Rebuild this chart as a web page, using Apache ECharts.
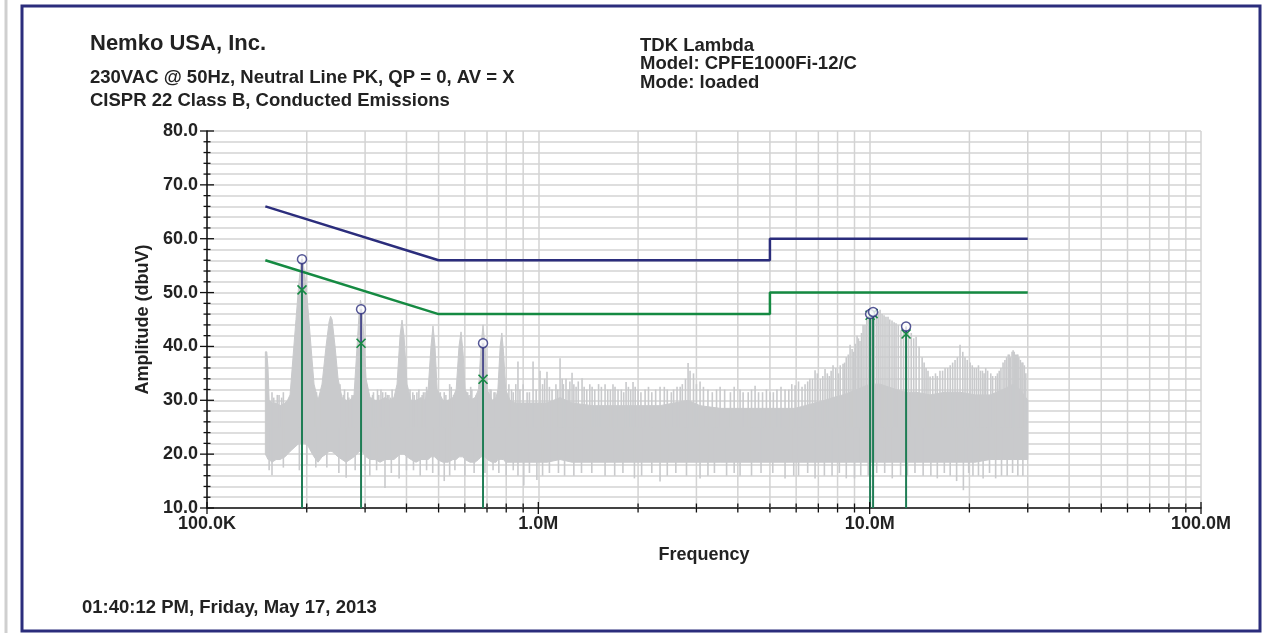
<!DOCTYPE html>
<html>
<head>
<meta charset="utf-8">
<title>Conducted Emissions - Neutral Line</title>
<script src="https://cdn.jsdelivr.net/npm/echarts@6/dist/echarts.min.js"></script>
<style>
  html, body { margin: 0; padding: 0; background: #ffffff; }
  #chart { width: 1262px; height: 633px; }
</style>
</head>
<body>
<div id="chart"></div>
<script>
// Frequencies are in kHz, amplitudes in dBuV.

// Axis ticks
const xTickValues = [100, 1000, 10000, 100000];
const xTickLabels = ['100.0K', '1.0M', '10.0M', '100.0M'];
const xMinorMultipliers = [2, 3, 4, 5, 6, 7, 8, 9];
const yMin = 10, yMax = 80, yMajorStep = 10, yMinorStep = 2;

// CISPR 22 Class B limits
const qpLimitFreq = [150, 500, 5000, 5000, 30000];
const qpLimitVal  = [66, 56, 56, 60, 60];
const avLimitFreq = [150, 500, 5000, 5000, 30000];
const avLimitVal  = [56, 46, 46, 50, 50];

// Peak scan envelope (upper / lower edge of the sweep trace)
const noiseFreq = [150, 151.5, 152.8, 154, 157.1, 161.6, 166.1, 172.0, 175, 178.1, 181.8, 185.6, 189.5, 193.5, 197.6, 201.8, 206.0, 210.4, 216.3,
  222.4, 228.7, 233.5, 236, 238.5, 243.5, 248.6, 255.6, 262.8, 270.2, 277.8, 283.7, 287.7, 290.5, 293.7, 297.8, 302.0, 310.5, 321.4, 332.8,
  344.5, 356.7, 366.7, 374.6, 382.5, 387.8, 393.2, 401.5, 412.8, 427.4, 442.5, 455, 465, 474.3, 480.9, 487.7, 495, 515.5, 533.8, 552.7,
  565, 576.2, 584.4, 592.5, 601, 622.1, 644.1, 660, 671.5, 680.9, 690.4, 701, 724.9, 745.3, 755, 767, 776, 785, 797, 821.4, 850.4,
  892.8, 963.9, 1062, 1163, 1264, 1453, 1704, 1931, 2330, 2831, 3077, 3537, 4063, 4510, 5005, 5554, 5955, 6383, 6842, 7334, 7752,
  8311, 8728, 9162, 9553, 10030, 10750, 11360, 12010, 12880, 13810, 15220, 16890, 18740, 20810, 23090, 25270, 27100, 28440, 30000];
const noiseHi = [39, 39, 36, 30, 29.5, 29.5, 29, 29.5, 30, 31, 38, 45, 52, 57, 53, 47, 40, 33, 30,
  33, 40, 44.5, 45.6, 45, 40, 34, 30.5, 30, 30, 31, 40, 46, 48.6, 47, 41, 34, 30.5, 30, 30,
  30.5, 30, 30.5, 33, 42, 44.9, 42, 33, 30, 30, 30.5, 30, 32, 40, 43.8, 40, 32, 30, 30, 30.5,
  32, 40, 42.7, 39, 32, 30, 30.5, 32, 40, 44, 40, 32, 30, 30.5, 32, 40, 42.5, 39, 32, 30, 29.5,
  29.5, 29.5, 29.5, 30.5, 29.5, 29, 29, 29, 29, 30, 29, 28.5, 28.5, 28.5, 28.5, 28.5, 28.5, 29, 29.5, 30, 30.5,
  31, 31.5, 32, 32.5, 33, 33, 32.5, 32, 31.5, 31.5, 31, 31.5, 31.5, 31, 31, 32, 33, 32, 30];
const noiseLo = [20, 19.5, 19, 19, 18.5, 19, 19, 19.5, 20, 20.5, 21, 21.5, 22, 22, 22, 21.5, 20.5, 19.5, 18.5,
  19.5, 20, 20.5, 20.5, 20.5, 20, 19.5, 19, 18.5, 19, 19.5, 20, 20.5, 20.5, 20.5, 20, 19.5, 19, 19, 18.5,
  19, 19, 19, 19.5, 20, 20, 20, 19.5, 19, 18.5, 19, 19, 19, 19.5, 19.5, 19.5, 19, 18.5, 18.5, 19,
  19, 19.5, 19.5, 19.5, 19, 18.5, 18.5, 19, 19.5, 19.5, 19.5, 19, 18.5, 18.5, 19, 19, 19, 19, 18.5, 18.5, 18.5,
  18.5, 18.5, 18.5, 19, 18.5, 18.5, 18.5, 18.5, 18.5, 18.5, 18.5, 18.5, 18.5, 18.5, 18.5, 18.5, 18.5, 18.5, 18.5, 18.5, 18.5,
  18.5, 18.5, 18.5, 18.5, 18.5, 18.5, 18.5, 18.5, 18.5, 18.5, 18.5, 18.5, 18.5, 18.5, 19, 19, 19, 19, 19];

// Narrow spikes above the trace envelope
const spikeFreq = [157.1, 159, 163, 165, 168, 170, 212, 214, 219, 252, 258, 260, 266, 268, 274, 305, 314, 316, 318, 327, 330, 335, 339,
  346, 350, 354, 358, 362, 405, 410, 418, 422, 430, 436, 446, 450, 455, 460, 500, 506, 520, 526, 540, 546, 555, 607, 612, 618,
  625, 630, 650, 700, 710, 715, 720, 735, 740, 805, 815, 830, 840, 855,
  868, 880, 900, 925, 940, 964, 985, 1012, 1030, 1045, 1062, 1080, 1100, 1130, 1145, 1163, 1180, 1190, 1212, 1230, 1245, 1264,
  1280, 1300, 1320, 1355, 1375, 1400, 1430, 1453, 1480, 1520, 1550, 1590, 1620, 1650, 1680, 1704, 1740, 1780, 1810, 1840, 1870,
  1900, 1931, 1960, 2000, 2040, 2100, 2150, 2200, 2260, 2330, 2400, 2450, 2520, 2560, 2622, 2680, 2720, 2780, 2831, 2870, 2940,
  3000, 3077, 3150, 3250, 3350, 3450, 3537, 3650, 3800, 3900, 4063, 4150, 4300, 4400, 4510, 4620, 4750, 4880, 5005, 5120, 5250,
  5400, 5554, 5700, 5820, 5955, 6100, 6250, 6383, 6500, 6600, 6720, 6842, 6950, 7100, 7220, 7334, 7450, 7552, 7650, 7752, 7900,
  8050, 8150, 8311, 8400, 8500, 8620, 8728, 8850, 8950, 9050, 9162, 9250, 9350, 9450, 9553, 9680, 9800, 9920, 10030, 10150,
  10350, 10500, 10620, 10750, 10900, 11050, 11200, 11360, 11500, 11680, 11850, 12010, 12200, 12430, 12650, 12880, 13100, 13350,
  13580, 13810, 14100, 14400, 14600, 14800, 15000, 15220, 15500, 15800, 16000, 16300, 16600, 16890, 17200, 17500, 17800, 18100,
  18400, 18740, 19100, 19400, 19700, 20100, 20400, 20700, 21000, 21300, 21600, 21900, 22150, 22400, 22700, 23200, 23500, 24000,
  24300, 24600, 24900, 25270, 25600, 25900, 26200, 26400, 26600, 26900, 27100, 27300, 27500, 27800, 28000, 28200, 28500, 28800,
  29000, 29300, 29600];
const spikeTop = [31.5, 30.5, 31, 31, 30.5, 31.5, 31, 31.5, 31, 33, 31, 32, 31.5, 30.5, 31, 31, 30.5, 31, 31.5, 32, 31, 32, 31.5,
  31.5, 31, 31, 30.5, 32, 31, 32, 31.5, 31, 31.5, 32, 31, 31.5, 31.5, 32.5, 31, 31.5, 31.5, 31, 33, 32.5, 31, 31.5, 31.5, 31,
  32.5, 32, 31, 31.5, 31, 32, 32, 31.5, 31.5, 31, 33, 32, 31.5, 33,
  37.2, 32, 33, 31.5, 31.5, 37.2, 32, 35.5, 33, 34, 35.3, 32.5, 32, 33, 32, 37.8, 34, 33, 34, 32, 33.5, 35.1,
  33, 32.5, 33.5, 34.1, 32.5, 32, 33, 32.5, 32, 33, 32.5, 33, 32, 32, 33, 32.5, 32, 32, 31.5, 33.4, 32.5,
  32, 33.4, 32.5, 32, 31.5, 32, 32.5, 31.5, 32, 32.5, 32.5, 32, 31.5, 32, 32.5, 32.5, 33, 34, 36.9, 35.5, 35,
  33, 33.5, 32.5, 32, 31.5, 32, 32.5, 32, 31.5, 32.5, 32, 31.5, 31.5, 32, 32.7, 31.5, 31.5, 32, 31.5, 31.5, 32,
  32.5, 32, 32, 33, 32.8, 33.5, 32.5, 33, 33.5, 34, 34, 35.6, 35, 34, 34.5, 35.8, 35, 34.5, 35.5, 36.5, 36,
  35, 36.5, 36.8, 37, 38, 38.5, 40.3, 39.5, 39, 40.5, 42, 41.5, 41, 42.5, 44, 44, 45, 45.5, 46.5, 46,
  45.5, 46, 46.5, 46.8, 46, 45.8, 45.5, 45.5, 45, 44.8, 44.5, 44.3, 44, 43, 43.5, 43.8, 42.5, 42.5,
  41.5, 41.8, 40, 38, 37, 36, 35.5, 34.4, 34.5, 35, 34.5, 35.5, 35.5, 36, 36, 36.5, 37, 37.5,
  38, 40.3, 39, 38, 37.5, 37, 36.5, 36, 36, 36.5, 35.5, 35.5, 35, 36, 35.5, 35, 34.5, 34.5,
  35, 35.5, 36, 37, 37.5, 38, 38.5, 38.5, 38, 39, 39.3, 39, 38.5, 38.5, 38.5, 38, 37.5, 37,
  37, 36.5, 35];

// Narrow dips below the trace envelope
const dipFreq = [154, 157.1, 170, 190, 200, 213, 230, 250, 263, 280, 300, 310, 325, 344.5, 360, 380, 400, 420, 440, 460, 480,
  500, 520, 540, 560, 600, 640, 690, 730, 760, 800, 840, 868, 904, 940, 990, 1030, 1080, 1150, 1200, 1280, 1350, 1450, 1590,
  1700, 1800, 1950, 2050, 2200, 2330, 2450, 2600, 2800, 3077, 3250, 3400, 3700, 3900, 4063, 4400, 4700, 5100, 5554, 5900, 6100,
  6500, 6842, 7300, 7700, 8100, 8500, 9000, 9400, 9900, 10500, 11100, 11700, 12400, 13000, 13700, 14500, 15300, 16000, 16800,
  17500, 18300, 19180, 19900, 20500, 21300, 22000, 23000, 24000, 25000, 26000, 27000, 28000, 29000];
const dipBottom = [17, 16.1, 17.5, 17, 18, 17.5, 17.5, 16.5, 15.6, 17, 17, 16, 17, 13.7, 16.5, 15.5, 17, 17, 16, 17, 16.5,
  16, 15, 16, 17, 16, 16.5, 16.5, 17, 16.5, 16, 17, 16, 14.2, 16.5, 15.2, 16, 16.5, 16.5, 16, 16, 16.5, 16.5, 16,
  16, 16.5, 15.5, 16, 16.5, 14.9, 16, 16.5, 16, 15.5, 16, 16.5, 16, 16.5, 16, 16, 16.5, 16.5, 15.5, 16, 16,
  16.5, 15.5, 16, 16, 16.5, 15.5, 15.5, 16, 16, 16.5, 16.5, 15.5, 16, 16, 16.5, 16, 16, 15.5, 16.5,
  16, 15, 13.3, 16.5, 16, 16, 15.5, 16.5, 15.5, 16, 16, 16.5, 16, 16];

// Final measurements: quasi-peak (circles) and average (crosses)
const peakFreq = [193.5, 291.7, 680.9, 10030, 10240, 12880];
const peakQP   = [56.2, 46.9, 40.6, 46.0, 46.4, 43.7];
const peakAV   = [50.5, 40.6, 33.9, 45.8, 46.1, 42.3];

const FONT = "'Liberation Sans', Arial, Helvetica, sans-serif";
const TEXT = '#222222';
const NAVY = '#2b2d7c';
const GREEN = '#158a42';
const STEM_GREEN = '#1f7d55';
const GREY = '#c9cacc';
const GRID = '#d3d3d3';

const chart = echarts.init(document.getElementById('chart'), null, { renderer: 'canvas', width: 1262, height: 633 });

function seg(a, b, stroke, width) {
  return { type: 'line', shape: { x1: a[0], y1: a[1], x2: b[0], y2: b[1] }, style: { stroke: stroke, lineWidth: width } };
}

// Vertical minor grid lines at 2..9 x each decade
function renderMinorGrid(params, api) {
  const children = [];
  for (let d = 0; d < xTickValues.length - 1; d++) {
    xMinorMultipliers.forEach(function (m) {
      const f = xTickValues[d] * m;
      children.push(seg(api.coord([f, yMax]), api.coord([f, yMin]), GRID, 1.5));
    });
  }
  return { type: 'group', children: children };
}

// Sweep trace: filled envelope plus narrow spikes and dips
function renderNoise(params, api) {
  const upper = noiseFreq.map(function (f, i) { return api.coord([f, noiseHi[i]]); });
  const lower = noiseFreq.map(function (f, i) { return api.coord([f, noiseLo[i]]); }).reverse();
  const children = [{ type: 'polygon', shape: { points: upper.concat(lower) }, style: { fill: GREY, stroke: GREY, lineWidth: 1 } }];
  spikeFreq.forEach(function (f, i) {
    children.push(seg(api.coord([f, 25]), api.coord([f, spikeTop[i]]), GREY, 1.6));
  });
  dipFreq.forEach(function (f, i) {
    children.push(seg(api.coord([f, 25]), api.coord([f, dipBottom[i]]), GREY, 1.6));
  });
  return { type: 'group', children: children };
}

// Stems: navy from QP to AV, green from AV down to the axis
function renderStems(params, api) {
  const f = api.value(0), qp = api.value(1), av = api.value(2);
  const pQ = api.coord([f, qp]), pA = api.coord([f, av]), pB = api.coord([f, yMin]);
  return { type: 'group', children: [seg(pA, pB, STEM_GREEN, 2), seg(pQ, pA, NAVY, 1.5)] };
}

// Average markers drawn as crosses
function renderCross(params, api) {
  const p = api.coord([api.value(0), api.value(1)]);
  const r = 4.5;
  return { type: 'group', children: [
    seg([p[0] - r, p[1] - r], [p[0] + r, p[1] + r], GREEN, 1.6),
    seg([p[0] - r, p[1] + r], [p[0] + r, p[1] - r], GREEN, 1.6)
  ] };
}

// Tick marks that cross both axis lines
function renderTicks(params, api) {
  const children = [];
  const x0 = api.coord([xTickValues[0], yMin])[0];
  for (let v = yMin; v <= yMax; v += yMinorStep) {
    const y = api.coord([xTickValues[0], v])[1];
    const L = (v % yMajorStep === 0) ? 7 : 3.5;
    children.push(seg([x0 - L, y], [x0 + L, y], '#111', 1.3));
  }
  const yb = api.coord([xTickValues[0], yMin])[1];
  xTickValues.forEach(function (t, d) {
    const x = api.coord([t, yMin])[0];
    children.push(seg([x, yb - 6], [x, yb + 6], '#111', 1.3));
    if (d < xTickValues.length - 1) {
      xMinorMultipliers.forEach(function (m) {
        const xm = api.coord([t * m, yMin])[0];
        children.push(seg([xm, yb - 4.5], [xm, yb + 4.5], '#111', 1.3));
      });
    }
  });
  return { type: 'group', children: children };
}

const labelFont = { fontFamily: FONT, fontWeight: 'bold', fontSize: 18, color: TEXT };

const option = {
  animation: false,
  backgroundColor: '#ffffff',
  grid: { left: 207, right: 61, top: 131, bottom: 125, containLabel: false, outerBoundsMode: 'none' },
  xAxis: {
    type: 'log', logBase: 10, min: xTickValues[0], max: xTickValues[xTickValues.length - 1],
    name: 'Frequency', nameLocation: 'middle', nameGap: 38,
    nameTextStyle: labelFont,
    axisLine: { show: true, onZero: false, lineStyle: { color: '#111', width: 1.5 } },
    axisTick: { show: false },
    axisLabel: Object.assign({ margin: 7, formatter: function (v) {
      const i = Math.round(Math.log10(v)) - 2;
      return xTickLabels[i] || '';
    } }, labelFont),
    splitLine: { show: true, lineStyle: { color: GRID, width: 1.5 } },
    minorTick: { show: false },
    minorSplitLine: { show: false }
  },
  yAxis: {
    type: 'value', min: yMin, max: yMax, interval: yMajorStep,
    name: 'Amplitude (dbuV)', nameLocation: 'middle', nameGap: 50,
    nameTextStyle: labelFont,
    axisLine: { show: true, onZero: false, lineStyle: { color: '#111', width: 1.5 } },
    axisTick: { show: false },
    axisLabel: Object.assign({ margin: 9, formatter: function (v) { return v.toFixed(1); } }, labelFont),
    splitLine: { show: true, lineStyle: { color: GRID, width: 1.5 } },
    minorTick: { show: false, splitNumber: yMajorStep / yMinorStep },
    minorSplitLine: { show: true, lineStyle: { color: GRID, width: 1.5 } }
  },
  graphic: [
    { type: 'line', shape: { x1: 6, y1: 0, x2: 6, y2: 633 }, style: { stroke: '#cfcfcf', lineWidth: 3 }, silent: true },
    { type: 'rect', shape: { x: 22, y: 6, width: 1238, height: 625 }, style: { fill: null, stroke: NAVY, lineWidth: 3 }, silent: true },
    { type: 'text', left: 90, top: 33, style: { text: 'Nemko USA, Inc.', font: 'bold 22px ' + FONT, fill: TEXT } },
    { type: 'text', left: 90, top: 68, style: { text: '230VAC @ 50Hz, Neutral Line PK, QP = 0, AV = X', font: 'bold 18.5px ' + FONT, fill: TEXT } },
    { type: 'text', left: 90, top: 91, style: { text: 'CISPR 22 Class B, Conducted Emissions', font: 'bold 18.5px ' + FONT, fill: TEXT } },
    { type: 'text', left: 640, top: 36, style: { text: 'TDK Lambda\nModel: CPFE1000Fi-12/C\nMode: loaded', font: 'bold 18.5px ' + FONT, fill: TEXT, lineHeight: 18.5 } },
    { type: 'text', left: 82, top: 598, style: { text: '01:40:12 PM, Friday, May 17, 2013', font: 'bold 18.5px ' + FONT, fill: TEXT } }
  ],
  series: [
    { type: 'custom', name: 'minor grid', z: 1, silent: true, clip: false, renderItem: renderMinorGrid, data: [[xTickValues[0], yMin]] },
    { type: 'custom', name: 'Peak scan', z: 2, silent: true, clip: true, renderItem: renderNoise, data: [[noiseFreq[0], yMin]] },
    { type: 'line', name: 'QP limit', z: 3, silent: true, symbol: 'none',
      data: qpLimitFreq.map(function (f, i) { return [f, qpLimitVal[i]]; }),
      lineStyle: { color: NAVY, width: 2.5 } },
    { type: 'line', name: 'AV limit', z: 3, silent: true, symbol: 'none',
      data: avLimitFreq.map(function (f, i) { return [f, avLimitVal[i]]; }),
      lineStyle: { color: GREEN, width: 2.5 } },
    { type: 'custom', name: 'stems', z: 4, silent: true, clip: false, renderItem: renderStems,
      data: peakFreq.map(function (f, i) { return [f, peakQP[i], peakAV[i]]; }) },
    { type: 'custom', name: 'AV', z: 5, silent: true, clip: false, renderItem: renderCross,
      data: peakFreq.map(function (f, i) { return [f, peakAV[i]]; }) },
    { type: 'scatter', name: 'QP', z: 6, silent: true, symbol: 'circle', symbolSize: 9,
      itemStyle: { color: '#ffffff', borderColor: NAVY, borderWidth: 1.5 },
      data: peakFreq.map(function (f, i) { return [f, peakQP[i]]; }) },
    { type: 'custom', name: 'ticks', z: 10, silent: true, clip: false, renderItem: renderTicks, data: [[xTickValues[0], yMin]] }
  ]
};

chart.setOption(option);
</script>
</body>
</html>
